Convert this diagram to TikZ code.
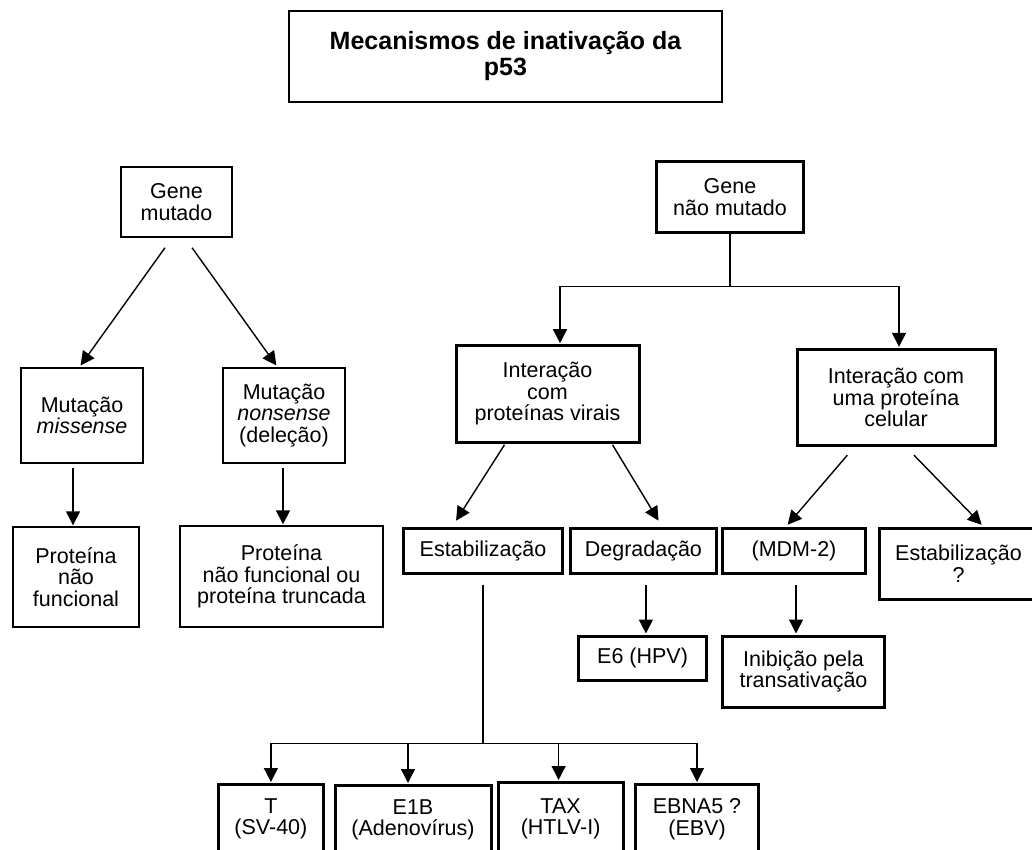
\documentclass[tikz,border=0pt]{standalone}
\usepackage{fontspec}
\setmainfont{Liberation Sans}
\usetikzlibrary{arrows.meta,calc}
\begin{document}
\begin{tikzpicture}[x=1pt,y=-1pt,
  thinbox/.style={draw=black, line width=1.4pt, inner sep=0pt, align=center,
    font=\fontsize{21.5}{21.5}\selectfont},
  thickbox/.style={thinbox, line width=3pt},
  arr/.style={line width=1.4pt, -{Triangle[length=14pt,width=14pt]}, shorten >=1pt},
  ln/.style={line width=1.4pt}]
\path[use as bounding box] (0,0) rectangle (1032,850);
\fill[white] (0,0) rectangle (1032,850);
\clip (0,0) rectangle (1032,850);

% title
\node[thinbox, minimum width=433pt, minimum height=91pt,
  font=\fontsize{25}{26}\selectfont\bfseries] (title) at (505.5,56.5)
  {Mecanismos de inativação da\\p53};

% left branch
\node[thinbox, minimum width=111pt, minimum height=70pt] (gm) at (176.5,202) {Gene\\mutado};
\node[thinbox, minimum width=122pt, minimum height=95pt] (miss) at (82,415.5) {Mutação\\\textit{missense}};
\node[thinbox, minimum width=122pt, minimum height=95pt] (nons) at (284,415.5) {Mutação\\\textit{nonsense}\\(deleção)};
\node[thinbox, minimum width=126pt, minimum height=100pt] (pnf) at (76,577) {Proteína\\não\\funcional};
\node[thinbox, minimum width=203pt, minimum height=101pt] (pnt) at (281.5,576.5) {Proteína\\não funcional ou\\proteína truncada};

% right branch
\node[thickbox, minimum width=147pt, minimum height=71pt] (gnm) at (730,197.2) {Gene\\não mutado};
\node[thickbox, minimum width=183pt, minimum height=96.6pt] (iv) at (547.5,394) {Interação\\com\\proteínas virais};
\node[thickbox, minimum width=198pt, minimum height=96.4pt] (ic) at (896,397.5) {Interação com\\uma proteína\\celular};
\node[thickbox, minimum width=159pt, minimum height=45pt] (est1) at (483,550.5) {Estabilização};
\node[thickbox, minimum width=146.6pt, minimum height=45pt] (deg) at (643.4,550.5) {Degradação};
\node[thickbox, minimum width=143.3pt, minimum height=45pt] (mdm) at (794,550.5) {(MDM-2)};
\node[thickbox, text width=158pt, minimum height=71pt, anchor=west] (est2) at (878,563.5) {Estabilização\\?};
\node[thickbox, minimum width=128pt, minimum height=44pt] (e6) at (642.6,658) {E6 (HPV)};
\node[thickbox, minimum width=162pt, minimum height=71pt] (inib) at (803.5,671.5) {Inibição pela\\transativação};

% bottom row (cut by the page edge)
\node[thickbox, minimum width=104.6pt, inner ysep=14pt, anchor=north] (t) at (270.9,783) {T\\(SV-40)\\[60pt]\mbox{}};
\node[thickbox, minimum width=156pt, inner ysep=14pt, anchor=north] (e1b) at (413,784) {E1B\\(Adenovírus)\\[60pt]\mbox{}};
\node[thickbox, minimum width=125pt, inner ysep=16pt, anchor=north] (tax) at (560.6,781) {TAX\\(HTLV-I)\\[60pt]\mbox{}};
\node[thickbox, minimum width=123pt, inner ysep=14pt, anchor=north] (ebna) at (697,783) {EBNA5 ?\\(EBV)\\[60pt]\mbox{}};

% connectors, left
\draw[arr] ($(gm.south)+(-11.5,10)$) -- ($(miss.north)+(-2,-1)$);
\draw[arr] ($(gm.south)+(15.5,10)$) -- ($(nons.north)+(-7,-1)$);
\draw[arr] ($(miss.south)+(-9,4)$) coordinate (a1) -- (a1 |- pnf.north);
\draw[arr] ($(nons.south)+(-1,4)$) coordinate (a2) -- (a2 |- pnt.north);

% connectors, right
\draw[ln] (gnm.south) -- ++(0,52.3) coordinate (j1);
\draw[arr] (j1) -| ($(iv.north)+(12.5,0)$);
\draw[arr] (j1) -| ($(ic.north)+(3,0)$);
\draw[arr] ($(iv.south)+(-43,1)$) -- ($(est1.north)+(-27.5,-5)$);
\draw[arr] ($(iv.south)+(65,1)$) -- ($(deg.north)+(15.6,-5)$);
\draw[arr] ($(ic.south)+(-48.7,8)$) -- ($(mdm.north)+(-7,-1)$);
\draw[arr] ($(ic.south)+(18,8)$) -- ($(est2.north west)+(104.4,-1)$);
\draw[arr] ($(deg.south)+(2.5,10)$) coordinate (a3) -- (a3 |- e6.north);
\draw[arr] ($(mdm.south)+(2,10)$) coordinate (a4) -- (a4 |- inib.north);

% stabilisation fan-out
\draw[ln] ($(est1.south)+(0,10)$) -- ($(est1.south)+(0,169)$) coordinate (j2);
\draw[arr] (j2) -| (t.north);
\draw[arr] (j2) -| ($(e1b.north)+(-5,0)$);
\draw[arr] (j2) -| ($(tax.north)+(-2,0)$);
\draw[arr] (j2) -| (ebna.north);
\end{tikzpicture}
\end{document}
